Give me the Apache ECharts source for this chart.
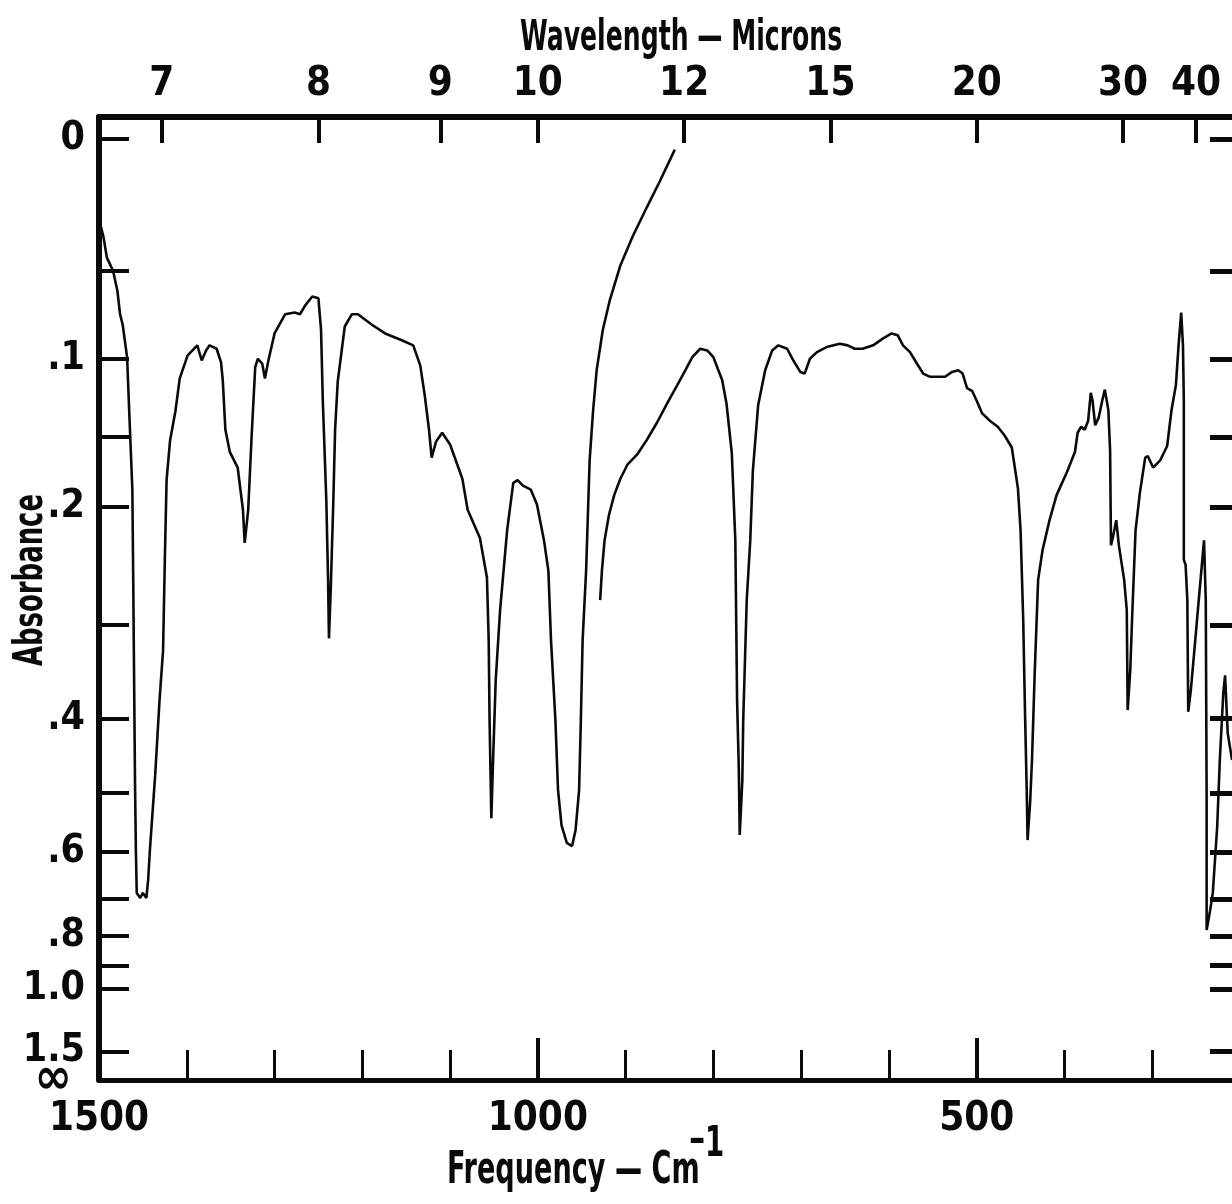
<!DOCTYPE html>
<html><head><meta charset="utf-8">
<script src="https://cdn.jsdelivr.net/npm/echarts@6/dist/echarts.min.js"></script>
<style>html,body{margin:0;padding:0;background:#fff}#c{width:1232px;height:1204px}</style>
</head><body><div id="c"></div>
<script>
// ---- Data (frequency in cm^-1, absorbance) ----
// Trace 1: from 1500 cm^-1 down to ~12 microns, where the pen runs off the top
const seg1Freq = [1498,1495,1491,1484,1479,1476,1473,1468,1465,1462,
  1461,1460,1459,1458,1457,1453,1450,1446,1444,1442,
  1436,1431,1427,1425,1423,1419,1413,1408,1399,1388,
  1383,1378,1374,1366,1361,1359,1356,1351,1342,1336,
  1334,1330,1326,1322,1319,1314,1311,1307,1300,1288,
  1277,1271,1265,1257,1250,1247,1245,1241,1239,1238,
  1236,1233,1231,1228,1220,1212,1205,1189,1174,1155,
  1142,1134,1129,1124,1121,1116,1109,1100,1086,1080,
  1066,1058,1056,1055,1053,1051,1048,1043,1035,1028,
  1023,1017,1008,1001,993,988,985,980,977,973,
  967,961,957,953,951,949,945,941,937,933,
  926,918,906,892,876,861,844];
const seg1Abs = [.033,.037,.045,.050,.061,.074,.080,.099,.141,.187,
  .259,.356,.481,.596,.686,.698,.686,.698,.657,.596,
  .474,.378,.325,.242,.180,.152,.133,.112,.098,.092,
  .101,.095,.092,.094,.102,.113,.145,.160,.171,.202,
  .228,.202,.148,.105,.100,.103,.112,.101,.085,.074,
  .073,.074,.069,.064,.065,.083,.126,.195,.259,.313,
  .268,.195,.145,.114,.081,.074,.074,.080,.085,.089,
  .092,.104,.122,.145,.164,.153,.147,.155,.179,.202,
  .224,.257,.315,.402,.540,.453,.356,.286,.218,.182,
  .180,.184,.187,.198,.226,.251,.315,.402,.496,.552,
  .583,.589,.560,.496,.402,.315,.251,.166,.132,.107,
  .083,.066,.048,.037,.026,.016,.004];
// Trace 2: from ~930 cm^-1 to the right edge
const seg2Freq = [929,927,924,919,913,906,898,887,876,864,
  853,841,832,824,815,807,800,795,790,785,
  779,775,774,773,771,770,767,766,764,762,
  758,755,749,741,733,726,716,709,701,696,
  690,682,671,656,647,639,630,618,607,597,
  590,584,576,568,561,553,545,536,528,521,
  516,511,505,500,494,485,476,468,460,453,
  450,447,445,443,442,439,437,434,430,425,
  417,409,397,388,385,381,377,373,370,368,
  365,361,357,354,350,348,347,345,341,338,
  332,329,328,325,323,319,314,308,305,299,
  291,283,278,273,270,267,265,264,264,262,
  260,259,256,251,246,241,239,238,238,234,
  231,226,223,219,217,214,209];
const seg2Abs = [.277,.251,.226,.206,.191,.179,.169,.162,.152,.140,
  .128,.116,.107,.099,.094,.095,.099,.106,.113,.128,
  .161,.226,.295,.378,.467,.569,.481,.402,.335,.277,
  .226,.173,.129,.107,.095,.092,.094,.101,.108,.109,
  .100,.096,.093,.091,.092,.094,.094,.092,.088,.085,
  .086,.092,.096,.103,.109,.111,.111,.111,.108,.107,
  .109,.118,.120,.126,.134,.139,.143,.149,.157,.186,
  .218,.295,.390,.496,.578,.511,.453,.351,.259,.234,
  .210,.191,.174,.160,.147,.143,.145,.139,.121,.126,
  .142,.137,.126,.119,.132,.159,.230,.224,.210,.230,
  .259,.286,.390,.345,.295,.218,.189,.164,.163,.171,
  .166,.156,.132,.116,.092,.073,.092,.126,.242,.246,
  .277,.392,.367,.315,.268,.226,.277,.511,.782,.728,
  .686,.555,.453,.370,.351,.418,.453];

// ---- Axis ticks / labels ----
const freqLabelValues = [1500, 1000, 500];
const freqMajorTicks = [1000, 500];
const wavelengthTicks = [7, 8, 9, 10, 12, 15, 20, 30, 40];
const absTickValues = [0, 0.05, 0.1, 0.15, 0.2, 0.3, 0.4, 0.5, 0.6, 0.7, 0.8, 0.9, 1.0, 1.5];
const absLabelValues = [0, 0.1, 0.2, 0.4, 0.6, 0.8, 1.0, 1.5];
const absLabelText = ['0', '.1', '.2', '.4', '.6', '.8', '1.0', '1.5'];
const absInfinityText = '\u221E';
const titleTop = 'Wavelength \u2014 Microns';
const titleBottom = 'Frequency \u2014 Cm';
const titleBottomExp = ['\u2013', '1'];
const titleLeft = 'Absorbance';

// Absorbance scale of the chart: linear in transmittance (10^-A); the printed
// "0" line sits a little above T = 1, so the 0 - 0.05 interval is linear.
const ZERO_POS = 1.0363, KNEE = 0.05, TOP_POS = 1.0606;
function absToPos(a) {
  if (a === Infinity) return 0;
  const k = Math.pow(10, -KNEE);
  if (a >= KNEE) return Math.pow(10, -a);
  return k + (KNEE - a) / KNEE * (ZERO_POS - k);
}
const FONT = "'Liberation Sans Narrow','DejaVu Sans Condensed','Arial Narrow','Liberation Sans',sans-serif";
const BLACK = '#0a0a0a';

const s1 = seg1Freq.map((f, i) => [f, absToPos(seg1Abs[i])]);
const s2 = seg2Freq.map((f, i) => [f, absToPos(seg2Abs[i])]);
const wlPos = wavelengthTicks.map(w => 10000 / w);
const absTickPos = absTickValues.map(absToPos);
const absLabelPos = absLabelValues.map(absToPos);

function condText(text, x, y, size, sx, extra) {
  return Object.assign({
    type: 'text', x: x, y: y, scaleX: sx, silent: true,
    style: {text: text, font: 'bold ' + size + 'px ' + FONT, fill: BLACK,
      align: 'left', verticalAlign: 'top'}
  }, extra || {});
}

const chart = echarts.init(document.getElementById('c'), null, {renderer: 'canvas'});
chart.setOption({
  animation: false,
  backgroundColor: '#fff',
  grid: {left: 99, right: -8, top: 117, bottom: 124, containLabel: false, outerBoundsMode: 'none'},
  graphic: [
    condText(titleTop, 520, 18, 42, 0.665),
    condText(titleBottom, 447, 1150, 44, 0.685),
    condText(titleBottomExp[0], 689, 1122, 40, 0.9),
    condText(titleBottomExp[1], 705, 1124, 42, 0.73),
    {type: 'text', x: 32, y: 580, rotation: Math.PI / 2, scaleX: 0.72, silent: true,
     style: {text: titleLeft, font: 'bold 40px ' + FONT, fill: BLACK, align: 'center', verticalAlign: 'middle'}}
  ],
  xAxis: [
    { // bottom frequency axis
      type: 'value', position: 'bottom', min: 200, max: 1500, interval: 100, inverse: true,
      axisLine: {show: true, onZero: false, lineStyle: {color: BLACK, width: 5}},
      axisTick: {show: true, inside: true, length: 30, lineStyle: {color: BLACK, width: 3}},
      axisLabel: {show: true, customValues: freqLabelValues, margin: 20, showMinLabel: true, showMaxLabel: true,
        formatter: v => String(v),
        fontFamily: FONT, fontWeight: 'bold', fontSize: 40, color: BLACK},
      splitLine: {show: false}
    },
    { // top wavelength axis
      type: 'value', position: 'top', min: 200, max: 1500, inverse: true,
      axisLine: {show: true, onZero: false, lineStyle: {color: BLACK, width: 6}},
      axisTick: {show: true, inside: true, length: 26, customValues: wlPos,
        lineStyle: {color: BLACK, width: 4}},
      axisLabel: {show: true, customValues: wlPos, margin: 12,
        formatter: v => String(Math.round(10000 / v)),
        fontFamily: FONT, fontWeight: 'bold', fontSize: 40, color: BLACK},
      splitLine: {show: false}
    },
    { // long ticks at 1000 and 500
      type: 'value', position: 'bottom', min: 200, max: 1500, inverse: true,
      axisLine: {show: false, onZero: false},
      axisTick: {show: true, inside: true, length: 42, customValues: freqMajorTicks,
        lineStyle: {color: BLACK, width: 4}},
      axisLabel: {show: false}, splitLine: {show: false}
    }
  ],
  yAxis: [
    {
      type: 'value', position: 'left', min: 0, max: TOP_POS,
      axisLine: {show: true, onZero: false, lineStyle: {color: BLACK, width: 6}},
      axisTick: {show: true, inside: true, length: 30, customValues: absTickPos,
        lineStyle: {color: BLACK, width: 4}},
      axisLabel: {show: true, customValues: absLabelPos, margin: 14,
        hideOverlap: false,
        formatter: v => {
          for (let i = 0; i < absLabelPos.length; i++) {
            if (Math.abs(absLabelPos[i] - v) < 1e-6) return absLabelText[i];
          }
          return '';
        },
        fontFamily: FONT, fontWeight: 'bold', fontSize: 39, color: BLACK},
      splitLine: {show: false}
    },
    {
      type: 'value', position: 'right', min: 0, max: TOP_POS,
      axisLine: {show: true, onZero: false, lineStyle: {color: BLACK, width: 6}},
      axisTick: {show: true, inside: true, length: 30, customValues: absTickPos,
        lineStyle: {color: BLACK, width: 5}},
      axisLabel: {show: false}, splitLine: {show: false}
    },
    { // the infinite-absorbance label at the bottom of the scale
      type: 'value', position: 'left', min: 0, max: TOP_POS,
      axisLine: {show: false, onZero: false},
      axisTick: {show: false},
      axisLabel: {show: true, customValues: [absToPos(Infinity)], margin: 27, showMinLabel: true,
        formatter: () => absInfinityText,
        fontFamily: FONT, fontWeight: 'bold', fontSize: 50, color: BLACK},
      splitLine: {show: false}
    }
  ],
  series: [
    {type: 'line', data: s1, xAxisIndex: 0, yAxisIndex: 0, symbol: 'none', smooth: false,
     lineStyle: {color: BLACK, width: 2.6}},
    {type: 'line', data: s2, xAxisIndex: 0, yAxisIndex: 0, symbol: 'none', smooth: false,
     lineStyle: {color: BLACK, width: 2.6}}
  ]
});
</script></body></html>
